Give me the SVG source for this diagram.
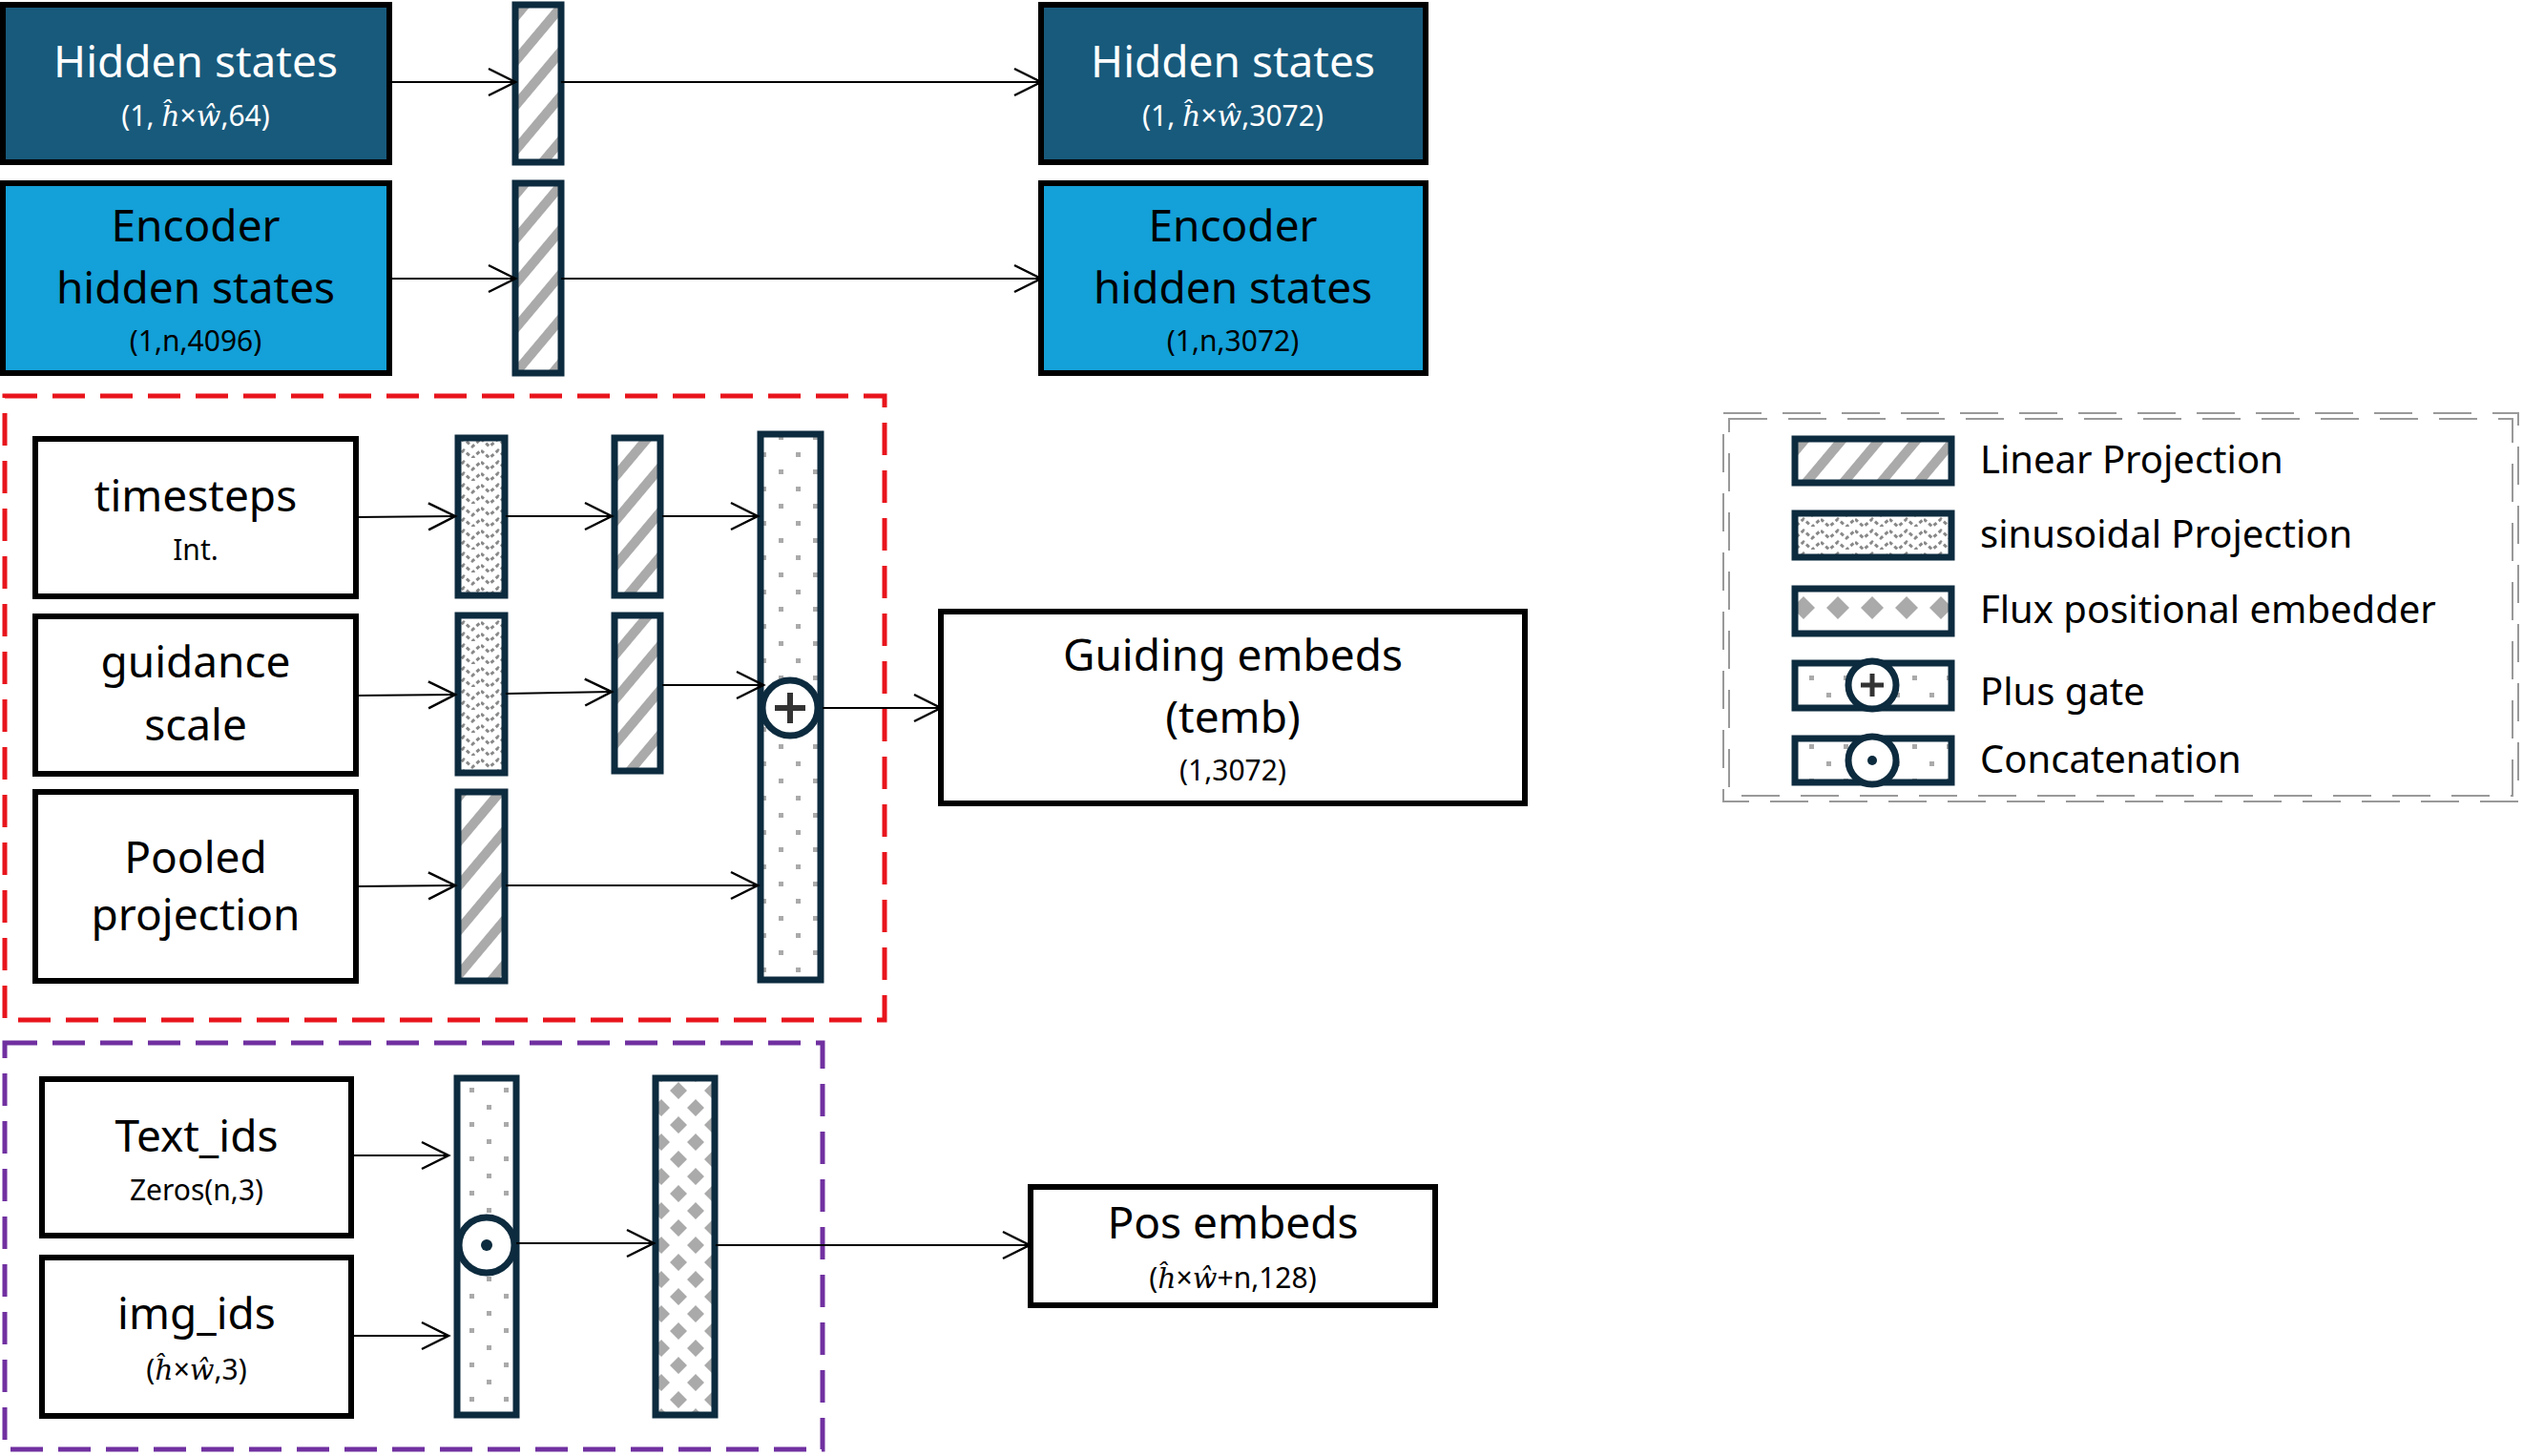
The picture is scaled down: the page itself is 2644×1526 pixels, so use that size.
<svg xmlns="http://www.w3.org/2000/svg" width="2644" height="1526" viewBox="0 0 2644 1526">
<defs>
<style>
.t{font-family:"Noto Sans","Open Sans",sans-serif;text-anchor:middle;fill:#000}
.big{font-size:46px}.sm{font-size:30px}
.w{fill:#fff}
.box{fill:#fff;stroke:#000;stroke-width:6}
.bar{stroke:#0d2b3e;stroke-width:7}
.c{stroke:#000;stroke-width:2;fill:none;marker-end:url(#ar)}
.lg{font-family:"Noto Sans","Open Sans",sans-serif;font-size:40px;fill:#000}
.m{font-family:"DejaVu Serif",serif;font-style:italic}
</style>
<marker id="ar" markerUnits="userSpaceOnUse" markerWidth="34" markerHeight="34" refX="30" refY="16" orient="auto"><path d="M2,2 L30,16 L2,30" fill="none" stroke="#000" stroke-width="2.5"/></marker>
<pattern id="lin" patternUnits="userSpaceOnUse" width="30" height="30" patternTransform="rotate(40)"><rect width="30" height="30" fill="#fff"/><rect x="0" width="10" height="30" fill="#aaa"/></pattern>
<pattern id="sin" patternUnits="userSpaceOnUse" width="36" height="24"><rect width="36" height="24" fill="#fff"/><path d="M0,4 L9,12 L18,4 L27,12 L36,4 M0,16 L9,24 L18,16 L27,24 L36,16" fill="none" stroke="#888" stroke-width="3" stroke-dasharray="4,3"/></pattern>
<pattern id="dot" patternUnits="userSpaceOnUse" width="36" height="36"><rect width="36" height="36" fill="#fff"/><rect x="6" y="6" width="5" height="5" fill="#aaa"/><rect x="24" y="24" width="5" height="5" fill="#aaa"/></pattern>
<pattern id="dia" patternUnits="userSpaceOnUse" width="36" height="36"><rect width="36" height="36" fill="#fff"/><path d="M9,0 L18,9 L9,18 L0,9Z M27,18 L36,27 L27,36 L18,27Z" fill="#aaa"/></pattern>
<pattern id="diah" patternUnits="userSpaceOnUse" x="0" y="10" width="36" height="36"><rect width="36" height="36" fill="#fff"/><path d="M18,3 L30,15 L18,27 L6,15Z" fill="#aaa"/></pattern>
</defs>
<rect width="2644" height="1526" fill="#fff"/>

<g id="hidden-in"><rect x="3" y="5" width="405" height="165" fill="#185a7c" stroke="#000" stroke-width="6"/><text class="t big w" x="205" y="81">Hidden states</text><text class="t sm w" x="205" y="132">(1, <tspan class="m">ĥ</tspan>×<tspan class="m">ŵ</tspan>,64)</text></g>
<g id="encoder-in"><rect x="3" y="192" width="405" height="199" fill="#14a0d8" stroke="#000" stroke-width="6"/><text class="t big" x="205" y="253">Encoder</text><text class="t big" x="205" y="318">hidden states</text><text class="t sm" x="205" y="368">(1,n,4096)</text></g>
<g id="lin1"><rect class="bar" x="540" y="5" width="48" height="165" fill="url(#lin)"/></g>
<g id="lin2"><rect class="bar" x="540" y="192" width="48" height="199" fill="url(#lin)"/></g>
<g id="hidden-out"><rect x="1091" y="5" width="403" height="165" fill="#185a7c" stroke="#000" stroke-width="6"/><text class="t big w" x="1292" y="81">Hidden states</text><text class="t sm w" x="1292" y="132">(1, <tspan class="m">ĥ</tspan>×<tspan class="m">ŵ</tspan>,3072)</text></g>
<g id="encoder-out"><rect x="1091" y="192" width="403" height="199" fill="#14a0d8" stroke="#000" stroke-width="6"/><text class="t big" x="1292" y="253">Encoder</text><text class="t big" x="1292" y="318">hidden states</text><text class="t sm" x="1292" y="368">(1,n,3072)</text></g>

<g id="temb-group"><rect x="5" y="415" width="922" height="654" fill="none" stroke="#e8141c" stroke-width="5" stroke-dasharray="34,16"/></g>
<g id="timesteps"><rect class="box" x="37" y="460" width="336" height="165"/><text class="t big" x="205" y="536">timesteps</text><text class="t sm" x="205" y="587">Int.</text></g>
<g id="guidance"><rect class="box" x="37" y="646" width="336" height="165"/><text class="t big" x="205" y="710">guidance</text><text class="t big" x="205" y="776">scale</text></g>
<g id="pooled"><rect class="box" x="37" y="830" width="336" height="198"/><text class="t big" x="205" y="915">Pooled</text><text class="t big" x="205" y="975">projection</text></g>
<g id="sin1"><rect class="bar" x="480" y="459" width="49" height="165" fill="url(#sin)"/></g>
<g id="sin2"><rect class="bar" x="480" y="645" width="49" height="165" fill="url(#sin)"/></g>
<g id="lin3"><rect class="bar" x="480" y="830" width="49" height="198" fill="url(#lin)"/></g>
<g id="lin4"><rect class="bar" x="644" y="459" width="48" height="165" fill="url(#lin)"/></g>
<g id="lin5"><rect class="bar" x="644" y="645" width="48" height="163" fill="url(#lin)"/></g>
<g id="plus"><rect class="bar" x="797" y="455" width="63" height="572" fill="url(#dot)"/><circle cx="828" cy="742" r="29" fill="#fff" stroke="#0d2b3e" stroke-width="7"/><path d="M812,742 H844 M828,726 V758" stroke="#333" stroke-width="6"/></g>
<g id="guiding"><rect class="box" x="986" y="641" width="612" height="201"/><text class="t big" x="1292" y="703">Guiding embeds</text><text class="t big" x="1292" y="768">(temb)</text><text class="t sm" x="1292" y="818">(1,3072)</text></g>

<g id="pos-group"><rect x="5" y="1093" width="857" height="426" fill="none" stroke="#7030a0" stroke-width="5" stroke-dasharray="34,16"/></g>
<g id="textids"><rect class="box" x="44" y="1131" width="324" height="164"/><text class="t big" x="206" y="1207">Text_ids</text><text class="t sm" x="206" y="1258">Zeros(n,3)</text></g>
<g id="imgids"><rect class="box" x="44" y="1318" width="324" height="166"/><text class="t big" x="206" y="1393">img_ids</text><text class="t sm" x="206" y="1446">(<tspan class="m">ĥ</tspan>×<tspan class="m">ŵ</tspan>,3)</text></g>
<g id="concat"><rect class="bar" x="479" y="1130" width="62" height="353" fill="url(#dot)"/><circle cx="510" cy="1305" r="29" fill="#fff" stroke="#0d2b3e" stroke-width="7"/><circle cx="510" cy="1305" r="6" fill="#0d2b3e"/></g>
<g id="flux"><rect class="bar" x="687" y="1130" width="62" height="353" fill="url(#dia)"/></g>
<g id="posembeds"><rect class="box" x="1080" y="1244" width="424" height="124"/><text class="t big" x="1292" y="1298">Pos embeds</text><text class="t sm" x="1292" y="1350">(<tspan class="m">ĥ</tspan>×<tspan class="m">ŵ</tspan>+n,128)</text></g>

<g id="legend">
<rect x="1806" y="433" width="833" height="407" fill="none" stroke="#999" stroke-width="2" stroke-dasharray="40,22"/>
<rect x="1812" y="439" width="821" height="395" fill="none" stroke="#999" stroke-width="2" stroke-dasharray="40,22"/>
<rect class="bar" x="1881" y="460" width="164" height="46" fill="url(#lin)"/>
<rect class="bar" x="1881" y="538" width="164" height="46" fill="url(#sin)"/>
<rect class="bar" x="1881" y="617" width="164" height="47" fill="url(#diah)"/>
<rect class="bar" x="1881" y="695" width="164" height="47" fill="url(#dot)"/>
<circle cx="1962" cy="718" r="25" fill="#fff" stroke="#0d2b3e" stroke-width="7"/><path d="M1950,718 H1974 M1962,706 V730" stroke="#333" stroke-width="5"/>
<rect class="bar" x="1881" y="774" width="164" height="46" fill="url(#dot)"/>
<circle cx="1962" cy="797" r="25" fill="#fff" stroke="#0d2b3e" stroke-width="7"/><circle cx="1962" cy="797" r="5" fill="#0d2b3e"/>
<text class="lg" x="2075" y="496">Linear Projection</text>
<text class="lg" x="2075" y="574">sinusoidal Projection</text>
<text class="lg" x="2075" y="653">Flux positional embedder</text>
<text class="lg" x="2075" y="739">Plus gate</text>
<text class="lg" x="2075" y="810">Concatenation</text>
</g>

<g id="connectors">
<path class="c" d="M408,86 H540"/>
<path class="c" d="M588,86 H1091"/>
<path class="c" d="M408,292 H540"/>
<path class="c" d="M588,292 H1091"/>
<path class="c" d="M373,542 L477,541"/>
<path class="c" d="M530,541 H641"/>
<path class="c" d="M694,541 H794"/>
<path class="c" d="M373,729 L477,728"/>
<path class="c" d="M530,727 L641,725"/>
<path class="c" d="M694,718 H800"/>
<path class="c" d="M373,929 L477,928"/>
<path class="c" d="M530,928 H794"/>
<path class="c" d="M862,742 H986"/>
<path class="c" d="M368,1211 H470"/>
<path class="c" d="M368,1400 H470"/>
<path class="c" d="M541,1303 H685"/>
<path class="c" d="M750,1305 H1079"/>
</g>
</svg>
